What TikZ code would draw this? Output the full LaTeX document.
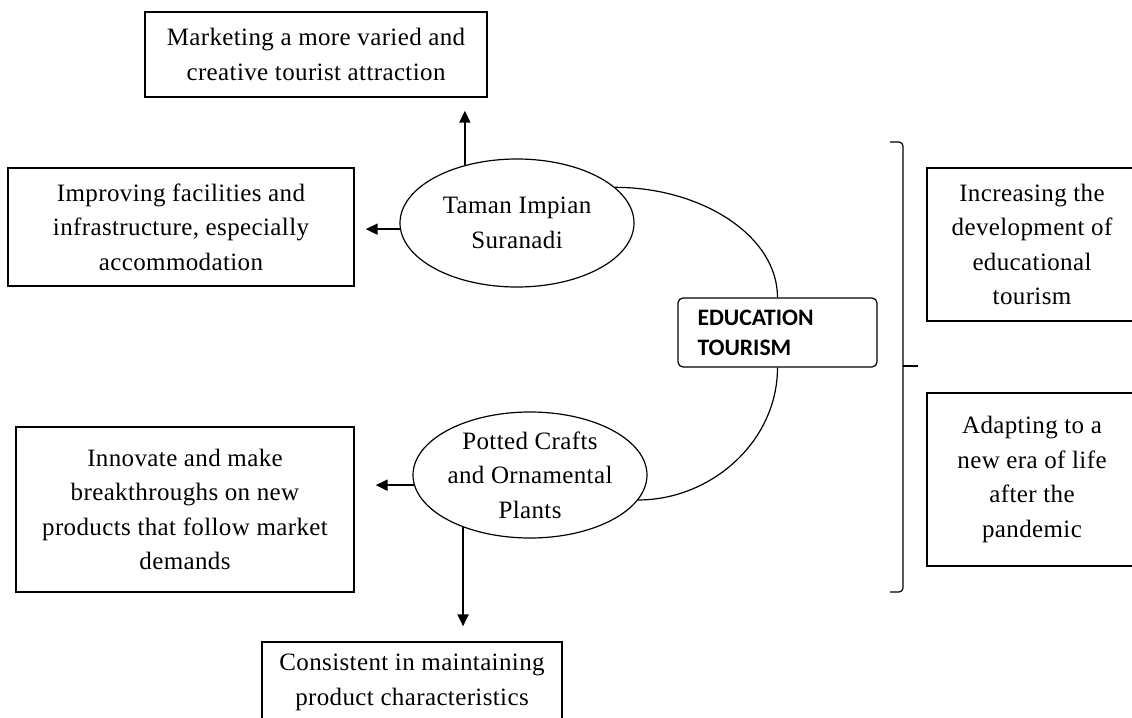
\documentclass[tikz,border=0pt]{standalone}
\usepackage{fontspec}
\setmainfont{Liberation Serif}[LetterSpace=1.5]
\newfontfamily\edufont{Carlito}
\usetikzlibrary{shapes.geometric,arrows.meta}

\begin{document}
\begin{tikzpicture}[x=0.5pt,y=-0.5pt]
	\tikzset{
		box/.style={draw,line width=0.7pt,align=center,inner sep=0pt,font=\fontsize{12.5}{17.25}\selectfont},
		place/.style={ellipse,draw,line width=0.6pt,align=center,inner sep=0pt,font=\fontsize{12.5}{17.25}\selectfont},
		link/.style={line width=1pt,-{Triangle[length=6pt,width=5.5pt]}},
		curve/.style={line width=0.6pt}
	}
	\clip (0,0) rectangle (1132,718);
	\node[box,minimum width=171pt,minimum height=42.5pt] (market) at (316,54.5) {Marketing a more varied and\\creative tourist attraction};
	\node[box,minimum width=173pt,minimum height=59pt] (improve) at (181,227) {Improving facilities and\\infrastructure, especially\\accommodation};
	\node[box,minimum width=169pt,minimum height=82.5pt] (innovate) at (185,509.5) {Innovate and make\\breakthroughs on new\\products that follow market\\demands};
	\node[box,minimum width=150pt,minimum height=40.5pt] (consist) at (412,682.5) {Consistent in maintaining\\product characteristics};
	\node[box,minimum width=105pt,minimum height=76.5pt] (increase) at (1032,244.5) {Increasing the\\development of\\educational\\tourism};
	\node[box,minimum width=105pt,minimum height=86.5pt] (adapt) at (1032,479.5) {Adapting to a\\new era of life\\after the\\pandemic};
	\node[place,minimum width=117pt,minimum height=64pt] (taman) at (517,223) {Taman Impian\\Suranadi};
	\node[place,minimum width=117pt,minimum height=63pt] (pot) at (530,475) {Potted Crafts\\and Ornamental\\Plants};
	\node[draw,line width=0.6pt,rounded corners=2.5pt,text width=80pt,align=left,inner xsep=9.75pt,minimum height=34.5pt,font=\edufont\bfseries\fontsize{11.8}{15}\selectfont] (edu) at (777.5,332.5) {EDUCATION\\TOURISM};
	\draw[link,shorten >=6.5pt] (taman.132) -- (taman.132 |- market.south);
	\draw[link,shorten >=5.5pt] (taman.183) -- (taman.183 -| improve.east);
	\draw[link,shorten >=10.5pt] (pot.185) -- (pot.185 -| innovate.east);
	\draw[link,shorten >=7.5pt] (pot.218) -- (pot.218 |- consist.north);
	\draw[curve] (taman.20) .. controls +(86,0) and +(0,-62) .. (edu.north);
	\draw[curve] (edu.south) .. controls +(0,74) and +(73,0) .. (pot.-13);
	\draw[curve,rounded corners=2pt] (890,142) -- (903,142) -- (903,592) -- (890,592);
	\draw[curve] (903,366) -- (918,366);
\end{tikzpicture}
\end{document}
